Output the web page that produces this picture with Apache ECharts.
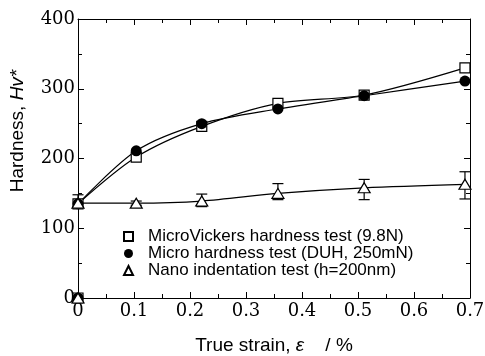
<!DOCTYPE html>
<html>
<head>
<meta charset="utf-8">
<script src="https://cdn.jsdelivr.net/npm/echarts@6/dist/echarts.min.js"></script>
<style>
  html, body { margin: 0; padding: 0; background: #fff; }
  #main { width: 485px; height: 356px; }
</style>
</head>
<body>
<div id="main"></div>
<script>
// 真应变 (%) 与硬度数据
const strain = [0, 0.104, 0.221, 0.357, 0.511, 0.691]
const microVickers = [135, 202, 246, 279, 291, 330]
const microDUH = [135, 211, 250, 271, 290, 311]
const nano = [136, 136, 139, 150, 158, 163]
const nanoLow = [131, 133, 131, 141, 141, 142]
const nanoHigh = [148, 139, 149, 164, 170, 181]
const originPoint = [0, 0]
const xTicks = [0, 0.1, 0.2, 0.3, 0.4, 0.5, 0.6, 0.7]
const yTicks = [0, 100, 200, 300, 400]
const names = [
  'MicroVickers hardness test (9.8N)',
  'Micro hardness test (DUH, 250mN)',
  'Nano indentation test (h=200nm)'
]

const pairs = (vals) => strain.map((x, i) => [x, vals[i]])
const labelFont = { fontFamily: 'DejaVu Serif', fontSize: 18, color: '#000' }
const sans = 'Liberation Sans'

const baseAxis = {
  axisLine: { show: true, onZero: false, lineStyle: { color: '#000', width: 1 } },
  axisTick: { show: true, inside: true, length: 6, lineStyle: { color: '#000', width: 1 } },
  minorTick: { show: true, splitNumber: 2, length: 4, lineStyle: { color: '#000', width: 1 } },
  splitLine: { show: false },
  minorSplitLine: { show: false }
}

const chart = echarts.init(document.getElementById('main'))
chart.setOption({
  animation: false,
  backgroundColor: '#fff',
  grid: { left: 78, top: 19, right: 15, bottom: 58, containLabel: false, outerBoundsMode: 'none' },
  legend: {
    orient: 'vertical',
    left: 123,
    top: 228,
    padding: 0,
    itemGap: 0,
    itemWidth: 9,
    itemHeight: 9,
    data: names,
    textStyle: { fontFamily: sans, fontSize: 17, color: '#000', padding: [0, 0, 0, 10] }
  },
  xAxis: [
    Object.assign({}, baseAxis, {
      type: 'value', min: 0, max: 0.7, interval: 0.1, position: 'bottom',
      axisLabel: Object.assign({ margin: 4, formatter: (v) => (xTicks.includes(+v.toFixed(1)) ? String(+v.toFixed(1)) : '') }, labelFont),
      name: 'True strain, {i|ε}    / %',
      nameLocation: 'middle',
      nameGap: 38,
      nameTextStyle: {
        fontFamily: sans, fontSize: 19, color: '#000',
        rich: { i: { fontFamily: sans, fontSize: 19, fontStyle: 'italic', color: '#000' } }
      }
    }),
    Object.assign({}, baseAxis, {
      type: 'value', min: 0, max: 0.7, interval: 0.1, position: 'top',
      axisLabel: { show: false }
    })
  ],
  yAxis: [
    Object.assign({}, baseAxis, {
      type: 'value', min: 0, max: 400, interval: 100, position: 'left',
      axisLabel: Object.assign({ margin: 3, formatter: (v) => (yTicks.includes(v) ? String(v) : '') }, labelFont)
    }),
    Object.assign({}, baseAxis, {
      type: 'value', min: 0, max: 400, interval: 100, position: 'right',
      axisLabel: { show: false }
    })
  ],
  graphic: [{
    type: 'text',
    x: 18,
    y: 131,
    rotation: Math.PI / 2,
    style: {
      text: 'Hardness, {i|Hv*}',
      align: 'center',
      verticalAlign: 'middle',
      fontFamily: sans,
      fontSize: 19,
      fill: '#000',
      rich: { i: { fontFamily: sans, fontSize: 19, fontStyle: 'italic', fill: '#000' } }
    }
  }],
  series: [
    // 拟合曲线
    {
      type: 'line', data: pairs(microVickers), smooth: 0.3, showSymbol: false, silent: true,
      lineStyle: { color: '#000', width: 1.2 }, z: 2
    },
    {
      type: 'line', data: pairs(microDUH), smooth: 0.3, showSymbol: false, silent: true,
      lineStyle: { color: '#000', width: 1.2 }, z: 2
    },
    {
      type: 'line', data: pairs(nano), smooth: 0.3, showSymbol: false, silent: true,
      lineStyle: { color: '#000', width: 1.2 }, z: 2
    },
    // 误差棒
    {
      type: 'custom',
      silent: true,
      z: 3,
      data: strain.map((x, i) => [x, nanoLow[i], nanoHigh[i]]),
      renderItem: (params, api) => {
        const lo = api.coord([api.value(0), api.value(1)])
        const hi = api.coord([api.value(0), api.value(2)])
        const w = 5.5
        const st = { stroke: '#000', lineWidth: 1.2 }
        return {
          type: 'group',
          children: [
            { type: 'line', shape: { x1: lo[0], y1: lo[1], x2: hi[0], y2: hi[1] }, style: st },
            { type: 'line', shape: { x1: lo[0] - w, y1: lo[1], x2: lo[0] + w, y2: lo[1] }, style: st },
            { type: 'line', shape: { x1: hi[0] - w, y1: hi[1], x2: hi[0] + w, y2: hi[1] }, style: st }
          ]
        }
      }
    },
    // 数据点
    {
      name: names[0], type: 'scatter', symbol: 'rect', symbolSize: 10, z: 4,
      data: pairs(microVickers).concat([originPoint]),
      itemStyle: { color: '#fff', borderColor: '#000', borderWidth: 1.2, opacity: 1 }
    },
    {
      name: names[1], type: 'scatter', symbol: 'circle', symbolSize: 11, z: 5,
      data: pairs(microDUH).concat([originPoint]),
      itemStyle: { color: '#000', borderColor: '#000', borderWidth: 0, opacity: 1 }
    },
    {
      name: names[2], type: 'scatter', symbol: 'triangle', symbolSize: [12, 10], z: 6,
      data: pairs(nano).concat([originPoint]),
      itemStyle: { color: '#fff', borderColor: '#000', borderWidth: 1.2, opacity: 1 }
    }
  ]
})
</script>
</body>
</html>
